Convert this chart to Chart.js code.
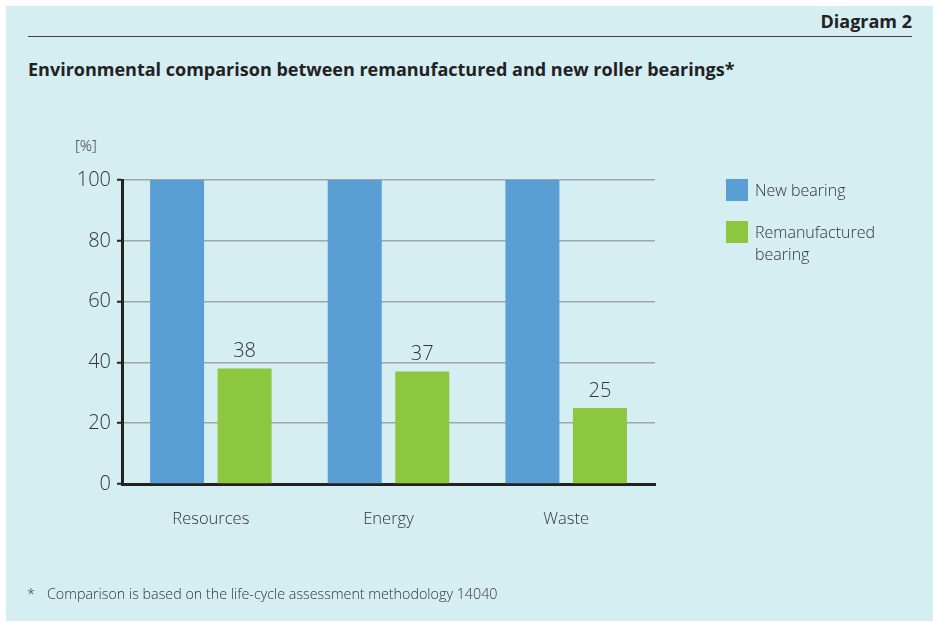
<!DOCTYPE html>
<html lang="en">
<head>
  <meta charset="UTF-8">
  <title>Diagram 2</title>
  <style>
    body {
      margin: 0;
      background: #fff;
      font-family: "Open Sans", sans-serif;
      color: #333;
    }
    #panel {
      position: absolute;
      left: 6px;
      top: 6px;
      width: 927px;
      height: 615px;
      background: #d5eef2;
    }
    #diagramNo {
      position: absolute;
      right: 21px;
      top: 9px;
      font-size: 18px;
      font-weight: bold;
      color: #222;
    }
    #rule {
      position: absolute;
      left: 28px;
      right: 21px;
      top: 36px;
      border-top: 1.5px solid #444;
    }
    #title {
      position: absolute;
      left: 28px;
      top: 57px;
      font-size: 18px;
      font-weight: bold;
      color: #222;
    }
    #unit {
      position: absolute;
      left: 75px;
      top: 135px;
      font-size: 15px;
      font-weight: 300;
    }
    #chartCanvas {
      position: absolute;
      left: 0;
      top: 0;
    }
    #legend {
      position: absolute;
      left: 726px;
      top: 179px;
    }
    .legend-item {
      display: flex;
      align-items: flex-start;
      margin-bottom: 20px;
    }
    .legend-box {
      width: 22px;
      height: 22px;
      flex: none;
      margin-right: 7px;
    }
    .legend-text {
      width: 140px;
      font-size: 16px;
      line-height: 22px;
      font-weight: 300;
    }
    #footnote {
      position: absolute;
      left: 27px;
      top: 584px;
      font-size: 14.3px;
      font-weight: 300;
    }
    #footnote span {
      display: inline-block;
      width: 20px;
    }
  </style>
</head>
<body>
  <div id="panel"></div>
  <div id="diagramNo">Diagram 2</div>
  <div id="rule"></div>
  <div id="title">Environmental comparison between remanufactured and new roller bearings*</div>
  <div id="unit">[%]</div>
  <canvas id="chartCanvas" width="933" height="623"></canvas>
  <div id="legend"></div>
  <div id="footnote"><span>*</span>Comparison is based on the life-cycle assessment methodology 14040</div>

  <script src="https://cdn.jsdelivr.net/npm/chart.js/dist/chart.umd.min.js"></script>
  <script>
    const categories = ['Resources', 'Energy', 'Waste'];
    const newBearing = [100, 100, 100];
    const remanufactured = [38, 37, 25];
    const yTicks = [0, 20, 40, 60, 80, 100];

    const BLUE = '#5a9fd3';
    const GREEN = '#8dc63f';

    // value labels above the green bars only
    const valueLabels = {
      id: 'valueLabels',
      afterDatasetsDraw(chart) {
        const ctx = chart.ctx;
        const meta = chart.getDatasetMeta(1);
        ctx.save();
        ctx.font = '300 20px "Open Sans", sans-serif';
        ctx.fillStyle = '#333';
        ctx.textAlign = 'center';
        ctx.textBaseline = 'bottom';
        meta.data.forEach((bar, i) => {
          ctx.fillText(String(chart.data.datasets[1].data[i]), bar.x, bar.y - 7);
        });
        ctx.restore();
      }
    };

    const chart = new Chart(document.getElementById('chartCanvas'), {
      type: 'bar',
      data: {
        labels: categories,
        datasets: [
          { label: 'New bearing', data: newBearing, backgroundColor: BLUE },
          { label: 'Remanufactured bearing', data: remanufactured, backgroundColor: GREEN }
        ]
      },
      options: {
        responsive: false,
        animation: false,
        layout: { padding: { left: 0, right: 278, top: 180, bottom: 79 } },
        datasets: {
          bar: { categoryPercentage: 0.76, barPercentage: 0.8 }
        },
        plugins: {
          legend: { display: false },
          tooltip: { enabled: false }
        },
        scales: {
          x: {
            grid: { display: false },
            border: { display: true, color: '#222', width: 3 },
            ticks: {
              color: '#333',
              padding: 17,
              font: { family: '"Open Sans", sans-serif', size: 16.5, weight: 300 }
            },
            afterFit: scale => { scale.height = 60; }
          },
          y: {
            min: 0,
            max: 100,
            afterBuildTicks: scale => { scale.ticks = yTicks.map(v => ({ value: v })); },
            grid: {
              color: '#a0a5a7',
              lineWidth: 1.5,
              tickColor: '#222',
              tickLength: 5,
              tickWidth: 2
            },
            border: { display: true, color: '#222', width: 3 },
            ticks: {
              color: '#333',
              padding: 6,
              font: { family: '"Open Sans", sans-serif', size: 20, weight: 300 }
            },
            afterFit: scale => { scale.width = 122; }
          }
        }
      },
      plugins: [valueLabels]
    });

    // html legend from the datasets
    const legend = document.getElementById('legend');
    chart.data.datasets.forEach(ds => {
      const item = document.createElement('div');
      item.className = 'legend-item';
      item.innerHTML = `<div class="legend-box" style="background:${ds.backgroundColor}"></div>
                        <div class="legend-text">${ds.label}</div>`;
      legend.appendChild(item);
    });
  </script>
</body>
</html>
